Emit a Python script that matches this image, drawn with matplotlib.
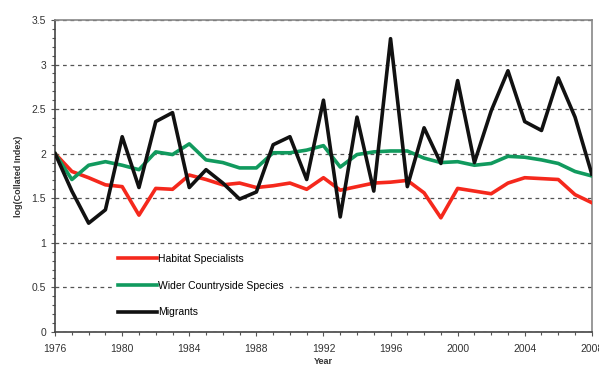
import numpy as np
import matplotlib
matplotlib.use('Agg')
from matplotlib import pyplot as plt
from matplotlib.ticker import MultipleLocator

plt.rcParams['font.family'] = ['Liberation Sans', 'DejaVu Sans']

years = list(range(1976, 2009))

# Habitat specialists (red)
habitat = [2.00, 1.80, 1.73, 1.65, 1.63, 1.31, 1.61, 1.60, 1.76, 1.71,
           1.65, 1.67, 1.62, 1.64, 1.67, 1.60, 1.73, 1.59, 1.63, 1.67,
           1.68, 1.70, 1.56, 1.28, 1.61, 1.58, 1.55, 1.67, 1.73, 1.72,
           1.71, 1.54, 1.45]

# Wider countryside species (green)
wider = [2.00, 1.71, 1.87, 1.91, 1.87, 1.82, 2.02, 1.99, 2.11, 1.93,
         1.90, 1.84, 1.84, 2.01, 2.01, 2.04, 2.09, 1.85, 1.99, 2.02,
         2.03, 2.03, 1.95, 1.90, 1.91, 1.87, 1.89, 1.97, 1.96, 1.93,
         1.89, 1.80, 1.75]

# Migrants (black)
migrants = [2.00, 1.58, 1.22, 1.37, 2.19, 1.62, 2.36, 2.46, 1.62, 1.82,
            1.67, 1.49, 1.57, 2.10, 2.19, 1.71, 2.60, 1.29, 2.41, 1.58,
            3.29, 1.63, 2.29, 1.89, 2.82, 1.90, 2.48, 2.93, 2.36, 2.26,
            2.85, 2.41, 1.77]

fig = plt.figure(figsize=(5.99, 3.70), dpi=100)
ax = fig.add_axes([0.092, 0.103, 0.896, 0.843])

ax.plot(years, habitat, color='#f5281c', lw=2.6, label='Habitat Specialists', zorder=3)
ax.plot(years, wider, color='#119a5e', lw=2.6, label='Wider Countryside Species', zorder=3)
ax.plot(years, migrants, color='#111111', lw=2.6, label='Migrants', zorder=4)

ax.set_xlim(1976, 2008)
ax.set_ylim(0, 3.5)
ax.xaxis.set_major_locator(MultipleLocator(4))
ax.xaxis.set_minor_locator(MultipleLocator(1))
ax.yaxis.set_minor_locator(MultipleLocator(0.1))
ax.set_yticks([0, 0.5, 1, 1.5, 2, 2.5, 3, 3.5])
ax.set_yticklabels(['0', '0.5', '1', '1.5', '2', '2.5', '3', '3.5'])

ax.tick_params(which='both', direction='out', color='#555555', labelsize=7.5,
               labelcolor='#333333', width=0.8)
ax.tick_params(which='major', length=3)
ax.tick_params(which='minor', length=2)
ax.tick_params(axis='x', pad=6)

ax.grid(axis='y', which='major', linestyle=(0, (3, 3)), color='#555555', lw=0.9)
ax.set_axisbelow(True)

for side in ['top', 'right']:
    ax.spines[side].set_color('#888888')
    ax.spines[side].set_linewidth(1.2)
for side in ['left', 'bottom']:
    ax.spines[side].set_color('#444444')
    ax.spines[side].set_linewidth(1.2)

ax.set_xlabel('Year', fontsize=6.5, color='#333333', labelpad=2, fontweight='bold')
ax.set_ylabel('log(Collated Index)', fontsize=6.5, color='#333333', labelpad=6, fontweight='bold')

leg = ax.legend(loc='upper left', bbox_to_anchor=(0.106, 0.27), fontsize=7.5,
                frameon=True, facecolor='white', edgecolor='none', framealpha=1,
                handlelength=3.75, handletextpad=0.05, labelspacing=1.6,
                borderpad=0.6, fancybox=False, borderaxespad=0)
leg.set_zorder(5)

plt.savefig('out.png', dpi=100)
